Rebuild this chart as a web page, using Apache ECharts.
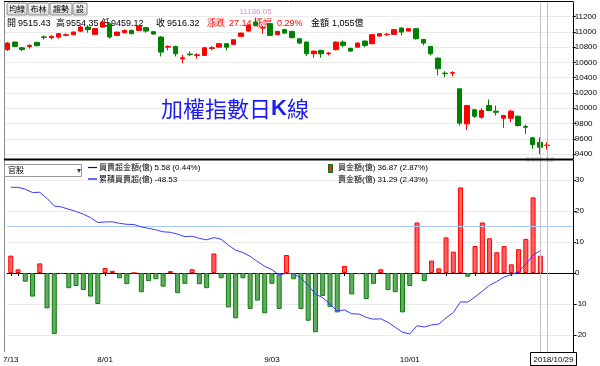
<!DOCTYPE html>
<html><head><meta charset="utf-8">
<script src="https://cdn.jsdelivr.net/npm/echarts@6/dist/echarts.min.js"></script>
<style>html,body{margin:0;padding:0;background:#fff}#c{width:600px;height:366px}</style>
</head><body><div id="c"></div>
<script>
// ---------------- data ----------------
const dates = [
 '2018/07/13','2018/07/16','2018/07/17','2018/07/18','2018/07/19','2018/07/20','2018/07/23','2018/07/24','2018/07/25','2018/07/26','2018/07/27','2018/07/30','2018/07/31',
 '2018/08/01','2018/08/02','2018/08/03','2018/08/06','2018/08/07','2018/08/08','2018/08/09','2018/08/10','2018/08/13','2018/08/14','2018/08/15','2018/08/16','2018/08/17','2018/08/20','2018/08/21','2018/08/22','2018/08/23','2018/08/24','2018/08/27','2018/08/28','2018/08/29','2018/08/30','2018/08/31',
 '2018/09/03','2018/09/04','2018/09/05','2018/09/06','2018/09/07','2018/09/10','2018/09/11','2018/09/12','2018/09/13','2018/09/14','2018/09/17','2018/09/18','2018/09/19','2018/09/20','2018/09/21','2018/09/25','2018/09/26','2018/09/27','2018/09/28',
 '2018/10/01','2018/10/02','2018/10/03','2018/10/04','2018/10/05','2018/10/08','2018/10/09','2018/10/11','2018/10/12','2018/10/15','2018/10/16','2018/10/17','2018/10/18','2018/10/19','2018/10/22','2018/10/23','2018/10/24','2018/10/25','2018/10/26','2018/10/29'
];
const opens = [10767,10867,10793,10810,10863,10935,10925,10933,10955,10964,11011,11064,10968,11064,11108,10955,10990,11020,11020,11056,11003,10933,10801,10810,10649,10710,10692,10692,10784,10801,10846,10837,10942,11011,11129,11050,11108,10964,11030,11007,10911,10867,10715,10758,10715,10767,10867,10784,10801,10880,10846,10946,10965,10968,11051,11011,11043,10902,10810,10657,10460,10460,10255,9796,9980,9883,10036,9962,9870,9870,9896,9761,9613,9555,9515.43];
const closes = [10854,10810,10771,10824,10820,10928,10942,10977,10963,10998,11064,11030,11043,11129,10933,10998,11020,10977,11073,11011,10972,10736,10810,10715,10662,10702,10700,10793,10793,10846,10801,10898,10985,11086,11086,11060,10955,11007,10985,10925,10854,10715,10749,10715,10723,10867,10824,10749,10854,10824,10964,10977,10970,11030,10998,11043,10911,10854,10715,10518,10453,10467,9806.11,10036,9896,9971,9971,9948,9905,9962,9774,9752,9525,9489.18,9516.32];
const lows = [10750,10800,10749,10780,10810,10898,10902,10911,10942,10960,10998,10990,10960,11055,10911,10945,10980,10970,11010,10990,10965,10679,10758,10679,10591,10683,10649,10685,10758,10795,10758,10830,10935,11005,11075,10977,10945,10955,10975,10915,10845,10683,10662,10662,10692,10760,10801,10740,10795,10801,10840,10940,10946,10960,10955,11005,10900,10824,10692,10430,10408,10417,9774,9717,9875,9862,9962,9905,9744,9817,9761,9665,9468,9400.52,9459.12];
const highs = [10870,10875,10801,10837,10870,10955,10955,10985,10981,11005,11086,11075,11050,11140,11115,11005,11030,11030,11080,11065,11010,10945,10824,10820,10702,10745,10723,10800,10815,10855,10855,10905,10990,11095,11186.05,11075,11120,11015,11040,11015,10920,10875,10755,10765,10736,10875,10889,10795,10862,10888,10970,10985,10985,11040,11060,11050,11050,10910,10815,10665,10486,10486,10260,10045,9990,10001,10115,10036,9915,9980,9905,9787,9625,9620,9554.35];
// 官股 買賣超金額(億)
const netBuy = [5.6,1.2,-2.8,-7.6,3.1,-11.4,-19.7,-0.3,-4.9,-4.2,-5.5,-7.6,-10.0,1.6,0.7,-1.7,-3.6,0,-6.2,-2.6,-2.0,-4.4,0.6,-6.5,-3.5,1.2,-3.6,-4.9,6.3,-1.7,-11.1,-14.6,-1.7,-11.6,-8.9,-13.0,-3.5,-11.6,5.8,-2.0,-11.6,-15.4,-19.1,-7.4,-10.9,-12.7,2.3,-6.9,-0.4,-8.4,-3.5,1.2,-5.5,-6.2,-12.7,-4.2,16.3,-2.6,4.0,1.5,11.5,6.9,27.6,-1.2,8.7,16.3,11.2,6.7,8.7,2.8,7.7,11.0,24.4,5.58];
// 累積買賣超(億)
const cumNet = [78.3,78.3,74.5,67.9,68.3,56.1,40.9,38.9,34.3,30.1,24.5,17.7,7.9,8.9,9.3,6.1,4.3,3.9,-1.1,-3.7,-6.7,-10.7,-11.7,-15.3,-20.5,-19.5,-23.9,-26.7,-22.3,-25.5,-37.5,-47.5,-52.1,-59.9,-70.1,-79.7,-86.3,-96.9,-93.7,-94.5,-103.1,-118.1,-135.1,-142.5,-155.1,-169.1,-167,-174.7,-175.1,-182,-185.5,-184.8,-191.7,-201.7,-211.7,-215,-198.5,-201.1,-196.9,-195.3,-182.9,-172.1,-150.7,-151.3,-140.9,-129.5,-117.5,-110.3,-101.1,-96.3,-90.5,-75.3,-57.1,-48.53];
const turnover = '1,055';
const buyAmt = '36.87', buyPct = '2.87%';
const sellAmt = '31.29', sellPct = '2.43%';
const netPct = '0.44%';
const topTicks = [9400,9600,9800,10000,10200,10400,10600,10800,11000,11200];
const botTicks = [-20,-10,0,10,20,30];
const labelDates = ['2018/07/13','2018/08/01','2018/09/03','2018/10/01'];

// ---------------- chart ----------------
const FONT = '"Liberation Sans","Noto Sans CJK TC",sans-serif';
const xCats = dates.concat(['', ' ', '  ']);
const last = dates.length - 1;
const fmtMD = v => { const p = v.split('/'); return (+p[1]) + '/' + p[2]; };
const isMonday = v => v && v.trim() && new Date(v.replace(/\//g,'-') + 'T00:00:00').getDay() === 1;

const candleData = dates.map((d, i) => [opens[i], closes[i], lows[i], highs[i]]);
const redBar = {color: 'rgba(255,80,80,0.9)', borderColor: '#ff0000', borderWidth: 1};
const greenBar = {color: 'rgba(76,165,76,0.9)', borderColor: '#107a10', borderWidth: 1};
const barData = netBuy.map(v => ({value: v, itemStyle: v >= 0 ? redBar : greenBar}));

const cO = opens[last], cC = closes[last], cL = lows[last], cH = highs[last];
const chg = cC - closes[last - 1];
const chgPct = chg / closes[last - 1] * 100;

function txt(x, y, s, opt, z) {
  return {type: 'text', x: x, y: y, silent: true, z: z === undefined ? 100 : z,
    style: Object.assign({text: s, fill: '#000', font: '9px ' + FONT, verticalAlign: 'middle', align: 'left'}, opt || {})};
}
function ln(x1, y1, x2, y2, color, w) {
  return {type: 'line', silent: true, z: 90, shape: {x1: x1, y1: y1, x2: x2, y2: y2}, style: {stroke: color, lineWidth: w || 1}};
}
function btn(x, w, label) {
  return [
    {type: 'rect', silent: true, z: 100, shape: {x: x, y: 3, width: w, height: 12, r: 1},
      style: {fill: new echarts.graphic.LinearGradient(0, 0, 0, 1, [{offset: 0, color: '#fbfbfb'}, {offset: 1, color: '#d6d6d6'}]), stroke: '#8c8c8c', lineWidth: 1}},
    txt(x + w / 2, 9.5, label, {font: '8px ' + FONT, align: 'center'})
  ];
}
const RED = {fill: '#ff0000'};

const graphics = [].concat(
  // frame
  ln(4, 1.5, 573, 1.5, '#000', 1),
  ln(4.5, 2, 4.5, 352, '#8a8a8a', 1),
  ln(4, 159.5, 573, 159.5, '#000', 2),
  // toolbar
  btn(7, 20, '均線'), btn(28, 21, '布林'), btn(50, 22, '趨勢'), btn(73, 14, '設'),
  // info row (drawn under the candles, as in the reference)
  txt(7, 23.5, '開', null, 0), txt(18, 23.5, cO.toFixed(2), null, 0),
  txt(56, 23.5, '高', null, 0), txt(66, 23.5, cH.toFixed(2), null, 0),
  txt(101, 23.5, '低', null, 0), txt(111, 23.5, cL.toFixed(2), null, 0),
  txt(156, 23.5, '收', null, 0), txt(167, 23.5, cC.toFixed(2), null, 0),
  txt(207, 23.5, '漲跌', RED, 0), txt(229, 23.5, chg.toFixed(2), RED, 0),
  txt(254, 23.5, '漲幅', RED, 0), txt(277, 23.5, chgPct.toFixed(2) + '%', RED, 0),
  txt(311, 23.5, '金額', null, 0), txt(332, 23.5, turnover + '億', null, 0),
  // title
  {type: 'text', x: 161, y: 109, silent: true, z: 100,
    style: {text: '{a|加權指數日}{b|K}{a|線}', verticalAlign: 'middle', align: 'left',
      rich: {a: {font: '22px "Noto Sans CJK TC",sans-serif', fill: '#1c1cf2'}, b: {font: 'bold 22px "Liberation Sans",sans-serif', fill: '#1c1cf2'}}}},
  // dropdown
  {type: 'rect', silent: true, z: 100, shape: {x: 4.5, y: 164.5, width: 77, height: 12}, style: {fill: '#fff', stroke: '#9a9a9a', lineWidth: 1}},
  txt(8, 170.5, '官股', {font: '8px ' + FONT}),
  txt(78.5, 170.5, '▾', {font: '8px ' + FONT, align: 'center', fill: '#333'}),
  // legends
  ln(88, 167.5, 97, 167.5, '#0000ff', 1.2),
  txt(99, 168, '買賣超金額(億) ' + netBuy[netBuy.length - 1].toFixed(2) + ' (' + netPct + ')', {font: '8px ' + FONT}),
  ln(88, 179, 97, 179, '#0000ff', 1.2),
  txt(99, 179.5, '累積買賣超(億) ' + cumNet[cumNet.length - 1].toFixed(2), {font: '8px ' + FONT}),
  {type: 'rect', silent: true, z: 100, shape: {x: 328.5, y: 164.5, width: 4, height: 8}, style: {fill: '#ff2020', stroke: '#0a6a0a', lineWidth: 1}},
  txt(338, 168, '買金額(億) ' + buyAmt + ' (' + buyPct + ')', {font: '8px ' + FONT}),
  txt(338, 179.5, '賣金額(億) ' + sellAmt + ' (' + sellPct + ')', {font: '8px ' + FONT}),
  // date box under crosshair
  {type: 'rect', silent: true, z: 100, shape: {x: 530.5, y: 352.5, width: 46, height: 13}, style: {fill: '#fff', stroke: '#000', lineWidth: 1}},
  txt(553.5, 359.5, dates[last], {font: '8px ' + FONT, align: 'center'})
);

const chart = echarts.init(document.getElementById('c'), null, {renderer: 'canvas'});
chart.setOption({
  animation: false,
  backgroundColor: '#fff',
  grid: [
    {left: 4, right: 27, top: 2, height: 157},
    {left: 4, right: 27, top: 160, height: 192}
  ],
  xAxis: [
    {type: 'category', gridIndex: 0, data: xCats, boundaryGap: true,
      axisLine: {show: false}, axisTick: {show: false}, axisLabel: {show: false}, splitLine: {show: false}},
    {type: 'category', gridIndex: 1, data: xCats, boundaryGap: true,
      axisLine: {show: true, lineStyle: {color: '#000', width: 1}},
      axisTick: {show: true, alignWithLabel: true, length: 3, lineStyle: {color: '#000'},
        interval: (i, v) => labelDates.includes(v) || isMonday(v)},
      axisLabel: {show: true, interval: (i, v) => labelDates.includes(v), formatter: fmtMD,
        fontSize: 8, fontFamily: FONT, color: '#000', margin: 4},
      splitLine: {show: false}}
  ],
  yAxis: [
    {type: 'value', gridIndex: 0, position: 'right', min: 9335.8, max: 11392,
      axisLine: {show: true, lineStyle: {color: '#000'}},
      axisTick: {show: true, length: 3, lineStyle: {color: '#000'}, customValues: topTicks},
      axisLabel: {show: true, customValues: topTicks, formatter: v => String(v), fontSize: 8, fontFamily: FONT, color: '#000', margin: 2},
      splitLine: {show: true, lineStyle: {color: '#ebebeb'}}},
    {type: 'value', gridIndex: 1, position: 'right', min: -25.48, max: 36.45,
      axisLine: {show: true, lineStyle: {color: '#000'}},
      axisTick: {show: true, length: 3, lineStyle: {color: '#000'}, customValues: botTicks},
      axisLabel: {show: true, customValues: botTicks, formatter: v => String(v), fontSize: 8, fontFamily: FONT, color: '#000', margin: 2},
      splitLine: {show: true, lineStyle: {color: '#ebebeb'}}},
    {type: 'value', gridIndex: 1, position: 'right', min: -251.1, max: 132.9, show: false,
      splitLine: {show: false}}
  ],
  series: [
    {type: 'candlestick', xAxisIndex: 0, yAxisIndex: 0, data: candleData, barWidth: 5,
      itemStyle: {color: '#ff0000', color0: '#008000', borderColor: '#ff0000', borderColor0: '#008000', borderWidth: 1},
      markPoint: {symbol: 'circle', symbolSize: 0, silent: true, animation: false,
        data: [
          {type: 'max', valueDim: 'highest', label: {show: true, position: 'top', distance: 2, formatter: p => Number(p.value).toFixed(2), color: '#f08ad0', fontSize: 8, fontFamily: FONT}},
          {type: 'min', valueDim: 'lowest', label: {show: true, position: 'bottom', distance: 2, formatter: p => Number(p.value).toFixed(2), color: '#8cc88c', fontSize: 8, fontFamily: FONT}}
        ]},
      markLine: {silent: true, symbol: ['none', 'none'], label: {show: false}, animation: false,
        data: [
          {xAxis: dates[last - 1], lineStyle: {color: '#c4c4c4', width: 1, type: 'solid'}},
          {xAxis: dates[last], lineStyle: {color: '#a9c6f5', width: 1, type: 'solid'}}
        ]}},
    {type: 'bar', xAxisIndex: 1, yAxisIndex: 1, data: barData, barWidth: 5,
      markLine: {silent: true, symbol: ['none', 'none'], label: {show: false}, animation: false,
        data: [
          {xAxis: dates[last - 1], lineStyle: {color: '#c4c4c4', width: 1, type: 'solid'}},
          {xAxis: dates[last], lineStyle: {color: '#a9c6f5', width: 1, type: 'solid'}},
          {yAxis: 15.2, lineStyle: {color: '#a9c6f5', width: 1, type: 'solid'}}
        ]}},
    {type: 'line', xAxisIndex: 1, yAxisIndex: 2, data: cumNet, symbol: 'none', smooth: false,
      lineStyle: {color: '#3a3aff', width: 1}, z: 5}
  ],
  graphic: graphics
});
</script></body></html>
